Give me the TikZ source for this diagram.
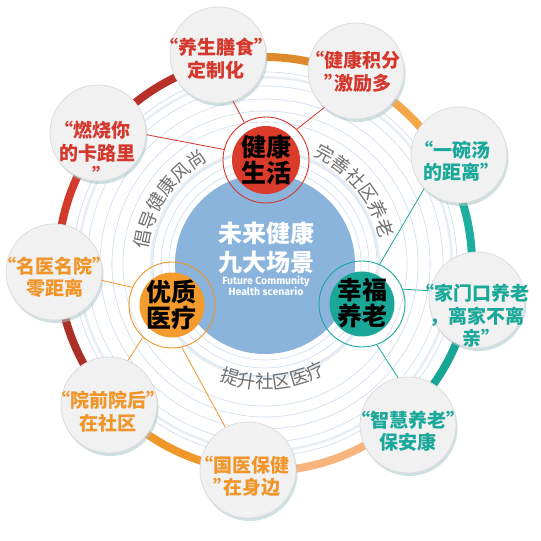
\documentclass[tikz,border=0pt]{standalone}
\usepackage{fontspec}
\setmainfont{Noto Sans CJK SC}
\newfontfamily\cjk{Noto Sans CJK SC}
\newfontfamily\enfont{Fira Sans}
\usetikzlibrary{shadows,decorations.text}
\newcommand\myoq{\makebox[0.5em][r]{“}}
\newcommand\mycq{\makebox[0.5em][l]{”}}
\definecolor{hred}{HTML}{D4372C}
\definecolor{horange}{HTML}{F0952A}
\definecolor{hteal}{HTML}{1AA89A}
\definecolor{catred}{HTML}{DA3B2B}
\definecolor{catorange}{HTML}{F39B2D}
\definecolor{catteal}{HTML}{1AA797}
\definecolor{hblue}{HTML}{8AB4DC}
\definecolor{ringc}{HTML}{CBDBEC}
\definecolor{lblfill}{HTML}{F1F1F1}
\definecolor{lbldraw}{HTML}{DCDCDC}
\definecolor{shadowc}{HTML}{A9C4C9}
\definecolor{arctext}{HTML}{707070}
\definecolor{glowc}{HTML}{E6EDF3}
\definecolor{bIA}{HTML}{B73129}
\definecolor{bAB}{HTML}{DD8A2C}
\definecolor{bBC}{HTML}{F4A748}
\definecolor{bCD}{HTML}{1CAE9F}
\definecolor{bDE}{HTML}{17A595}
\definecolor{bEF}{HTML}{F7B47C}
\definecolor{bFG}{HTML}{F0972B}
\definecolor{bGH}{HTML}{A92F27}
\definecolor{bHI}{HTML}{D23A2C}
\begin{document}
\begin{tikzpicture}[x=1pt,y=1pt,
  lbl/.style={circle, minimum size=96pt, inner sep=0pt, fill=lblfill, draw=lbldraw, line width=0.8pt,
    drop shadow={shadow xshift=1.5pt, shadow yshift=-3pt, fill=shadowc, opacity=0.55}},
  lbltext/.style={align=center, inner sep=0pt, font=\cjk\bfseries\fontsize{19}{22.5}\selectfont},
  catring/.style={circle, minimum size=86pt, inner sep=0pt, line width=0.9pt},
  catfill/.style={circle, inner sep=0pt},
  cattext/.style={align=center, inner sep=0pt, text=black, font=\cjk\bfseries\fontsize{25}{26}\selectfont},
  conn/.style={line width=0.8pt},
  ringline/.style={draw=ringc, line width=0.6pt},
  band/.style={line width=8pt}
]
\useasboundingbox (0,0) rectangle (541,541);
\coordinate (O) at (265,277);
% soft glow bands
\draw[glowc, line width=5pt] (O) circle[radius=115];
\draw[white, line width=4pt] (O) circle[radius=117];
\draw[glowc, line width=5pt] (O) circle[radius=188];
\draw[white, line width=4pt] (O) circle[radius=190];
% concentric rings
\foreach \r in {96,104,112,142,153,165,178,192}
  \draw[ringline] (O) circle[radius=\r];
% outer band
\draw[band, bIA] (O) ++(102.7:207) arc[start angle=102.7, end angle=142.1, radius=207];
\draw[band, bAB] (O) ++(64.6:207) arc[start angle=64.6, end angle=102.7, radius=207];
\draw[band, bBC] (O) ++(29.1:207) arc[start angle=29.1, end angle=64.6, radius=207];
\draw[band, bCD] (O) ++(-9.9:207) arc[start angle=-9.9, end angle=29.1, radius=207];
\draw[band, bDE] (O) ++(-48.6:207) arc[start angle=-48.6, end angle=-9.9, radius=207];
\draw[band, bEF] (O) ++(-94.7:207) arc[start angle=-94.7, end angle=-48.6, radius=207];
\draw[band, bFG] (O) ++(-137.7:207) arc[start angle=-137.7, end angle=-94.7, radius=207];
\draw[band, bGH] (O) ++(182.4:207) arc[start angle=182.4, end angle=222.3, radius=207];
\draw[band, bHI] (O) ++(142.1:207) arc[start angle=142.1, end angle=182.4, radius=207];
% blue centre
\fill[hblue] (O) circle[radius=90];
% arc texts
\path[decorate, decoration={text along path, text align=center, text color=arctext,
  text={|\cjk\fontsize{18.5}{18.5}\selectfont|倡导健康风尚}}]
  (O) ++(186:118) arc[start angle=186, end angle=106, radius=118];
\path[decorate, decoration={text along path, text align=center, text color=arctext,
  text={|\cjk\fontsize{18.5}{18.5}\selectfont|完善社区养老}}]
  (O) ++(79:118) arc[start angle=79, end angle=-1, radius=118];
\path[decorate, decoration={text along path, text align=center, text color=arctext,
  text={|\cjk\fontsize{18.5}{18.5}\selectfont|提升社区医疗}}]
  (O) ++(-126:125) arc[start angle=-126, end angle=-46, radius=125];
% centre text
\node[text=white, align=center, inner sep=0pt, font=\cjk\bfseries\fontsize{24}{29}\selectfont] (ctext) at (266,293.5) {未来健康\\九大场景};
\node[text=white, align=center, inner sep=0pt, font=\enfont\bfseries\fontsize{10.5}{11}\selectfont] (etext) at (266,255.5) {Future Community\\Health scenario};
% category rings
\node[catring, draw=hred] (hl) at (266,381) {};
\node[catring, draw=horange] (yz) at (172,236) {};
\node[catring, draw=hteal] (xf) at (362,237) {};
% label circles
\node[lbl] (A) at (218,486) {};
\node[lbl] (B) at (356,470) {};
\node[lbl] (C) at (459,386) {};
\node[lbl] (D) at (477,241) {};
\node[lbl] (E) at (408,116) {};
\node[lbl] (F) at (248,71) {};
\node[lbl] (G) at (109,136) {};
\node[lbl] (H) at (54,269) {};
\node[lbl] (I) at (98,408) {};
% connectors
\draw[conn, hred] (hl.120) -- (A.-72);
\draw[conn, hred] (hl.166) -- (I.-2);
\draw[conn, hred] (hl.45) -- (B.229);
\draw[conn, horange] (yz.156) -- (H.-10);
\draw[conn, horange] (yz.228) -- (G.67);
\draw[conn, horange] (yz.-77) -- (F.118);
\draw[conn, hteal] (xf.66) -- (C.224);
\draw[conn, hteal] (xf.20) -- (D.169);
\draw[conn, hteal] (xf.-70) -- (E.102);
% category fills and texts
\node[catfill, fill=catred, minimum size=68pt] (hlf) at (hl) {};
\node[catfill, fill=catorange, minimum size=65pt] (yzf) at (yz) {};
\node[catfill, fill=catteal, minimum size=65pt] (xff) at (xf) {};
\node[cattext] (hlt) at (266,381.5) {健康\\生活};
\node[cattext] (yzt) at (171,236) {优质\\医疗};
\node[cattext] (xft) at (362,237.5) {幸福\\养老};
% label texts
\node[lbltext, text=hred] (At) at (216,482.5) {\myoq 养生膳食\mycq\\定制化};
\node[lbltext, text=hred] (Bt) at (358,469) {\myoq 健康积分\\\mycq 激励多};
\node[lbltext, text=hred] (It) at (97,389) {\myoq 燃烧你\\的卡路里\\\mycq};
\node[lbltext, text=hteal] (Ct) at (457,380) {\myoq 一碗汤\\的距离\mycq};
\node[lbltext, text=hteal] (Dt) at (477,225) {\myoq 家门口养老\\，离家不离\\亲\mycq};
\node[lbltext, text=hteal] (Et) at (408,110) {\myoq 智慧养老\mycq\\保安康};
\node[lbltext, text=horange] (Ft) at (247,64.5) {\myoq 国医保健\\\mycq 在身边};
\node[lbltext, text=horange] (Gt) at (108,129.5) {\myoq 院前院后\mycq\\在社区};
\node[lbltext, text=horange] (Ht) at (55,263.5) {\myoq 名医名院\mycq\\零距离};
\end{tikzpicture}
\end{document}
